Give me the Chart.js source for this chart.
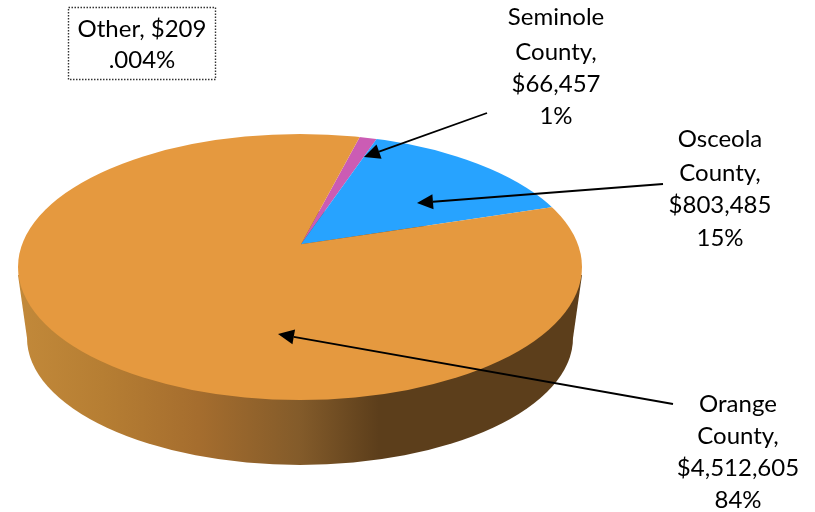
<!DOCTYPE html>
<html>
<head>
<meta charset="utf-8">
<title>Revenue by county</title>
<script src="https://cdn.jsdelivr.net/npm/chart.js@4"></script>
<style>
  html, body { margin: 0; padding: 0; background: #fff; }
  canvas { display: block; }
</style>
</head>
<body>
<canvas id="pie" width="815" height="512"></canvas>
<script>
const categories = ['Seminole County', 'Osceola County', 'Orange County', 'Other'];
const amounts = [66457, 803485, 4512605, 209];
const percents = ['1%', '15%', '84%', '.004%'];
const colors = ['#CB5CB4', '#27A3FF', '#E5993F', '#E5993F'];

// top face and bottom rim of the disc, the view is in perspective so the apex is off centre
const topFace = { x: 300, y: 267, rx: 282, ry: 133 };
const bottomRim = { x: 300, y: 338, rx: 273, ry: 127 };
const apex = { x: 301, y: 244.3 };
const radiusX = 330, radiusY = 165;

const labelBlocks = [
  { x: 556, ys: [17, 52, 84, 116], lines: i => ['Seminole', 'County,', fmt(i), percents[i]], i: 0 },
  { x: 720, ys: [139, 173, 205, 238], lines: i => ['Osceola', 'County,', fmt(i), percents[i]], i: 1 },
  { x: 738, ys: [404, 436, 468, 500], lines: i => ['Orange', 'County,', fmt(i), percents[i]], i: 2 },
  { x: 142, ys: [29, 60], lines: i => ['Other, ' + fmt(i), percents[i]], i: 3 }
];
const arrows = [
  [487, 113, 364, 157],
  [663, 184, 417, 203],
  [673, 404, 278, 334]
];

function fmt(i) {
  return '$' + amounts[i].toLocaleString('en-US');
}

function ellipsePath(ctx, e) {
  ctx.beginPath();
  ctx.ellipse(e.x, e.y, e.rx, e.ry, 0, 0, Math.PI * 2);
}

const discPlugin = {
  id: 'disc',
  beforeDatasetsDraw(chart) {
    const ctx = chart.ctx;
    const arc = chart.getDatasetMeta(0).data[0];
    const r = arc.outerRadius;

    // side wall
    const wall = ctx.createLinearGradient(topFace.x - topFace.rx, 0, topFace.x + topFace.rx, 0);
    wall.addColorStop(0, '#C2893A');
    wall.addColorStop(0.15, '#B67E33');
    wall.addColorStop(0.32, '#A56D2E');
    wall.addColorStop(0.5, '#835B2A');
    wall.addColorStop(0.64, '#5C3E1B');
    wall.addColorStop(1, '#5C3E1B');
    ctx.save();
    ctx.fillStyle = wall;
    ellipsePath(ctx, bottomRim);
    ctx.fill();
    ctx.beginPath();
    ctx.moveTo(topFace.x - topFace.rx, topFace.y + 8);
    ctx.lineTo(bottomRim.x - bottomRim.rx, bottomRim.y);
    ctx.lineTo(bottomRim.x + bottomRim.rx, bottomRim.y);
    ctx.lineTo(topFace.x + topFace.rx, topFace.y + 8);
    ctx.closePath();
    ctx.fill();
    ctx.restore();

    // top face: slices are squashed about the apex and cut to the rim
    ctx.save();
    ellipsePath(ctx, topFace);
    ctx.clip();
    ctx.translate(apex.x, apex.y);
    ctx.scale(radiusX / r, radiusY / r);
    ctx.translate(-arc.x, -arc.y);
  },
  afterDatasetsDraw(chart) {
    const ctx = chart.ctx;
    ctx.restore();

    ctx.strokeStyle = '#000';
    ctx.fillStyle = '#000';
    arrows.forEach(([x0, y0, x1, y1]) => {
      const a = Math.atan2(y1 - y0, x1 - x0);
      const bx = x1 - 16 * Math.cos(a), by = y1 - 16 * Math.sin(a);
      ctx.lineWidth = 1.8;
      ctx.beginPath();
      ctx.moveTo(x0, y0);
      ctx.lineTo(bx, by);
      ctx.stroke();
      ctx.beginPath();
      ctx.moveTo(x1, y1);
      ctx.lineTo(bx - 7.5 * Math.sin(a), by + 7.5 * Math.cos(a));
      ctx.lineTo(bx + 7.5 * Math.sin(a), by - 7.5 * Math.cos(a));
      ctx.closePath();
      ctx.fill();
    });

    // dotted box round the Other label
    ctx.lineWidth = 1.4;
    ctx.setLineDash([1.5, 1.5]);
    ctx.strokeStyle = '#333';
    ctx.strokeRect(68.5, 7.5, 147, 72);
    ctx.setLineDash([]);

    ctx.font = '24px Lato, "Noto Sans", sans-serif';
    ctx.fillStyle = '#000';
    ctx.textAlign = 'center';
    ctx.textBaseline = 'middle';
    labelBlocks.forEach(b => {
      b.lines(b.i).forEach((t, n) => ctx.fillText(t, b.x, b.ys[n]));
    });
  }
};

new Chart(document.getElementById('pie'), {
  type: 'pie',
  data: {
    labels: categories,
    datasets: [{ data: amounts, backgroundColor: colors, borderWidth: 0, hoverOffset: 0 }]
  },
  options: {
    responsive: false,
    animation: false,
    rotation: 15.3,
    events: [],
    plugins: { legend: { display: false }, tooltip: { enabled: false } }
  },
  plugins: [discPlugin]
});
</script>
</body>
</html>
